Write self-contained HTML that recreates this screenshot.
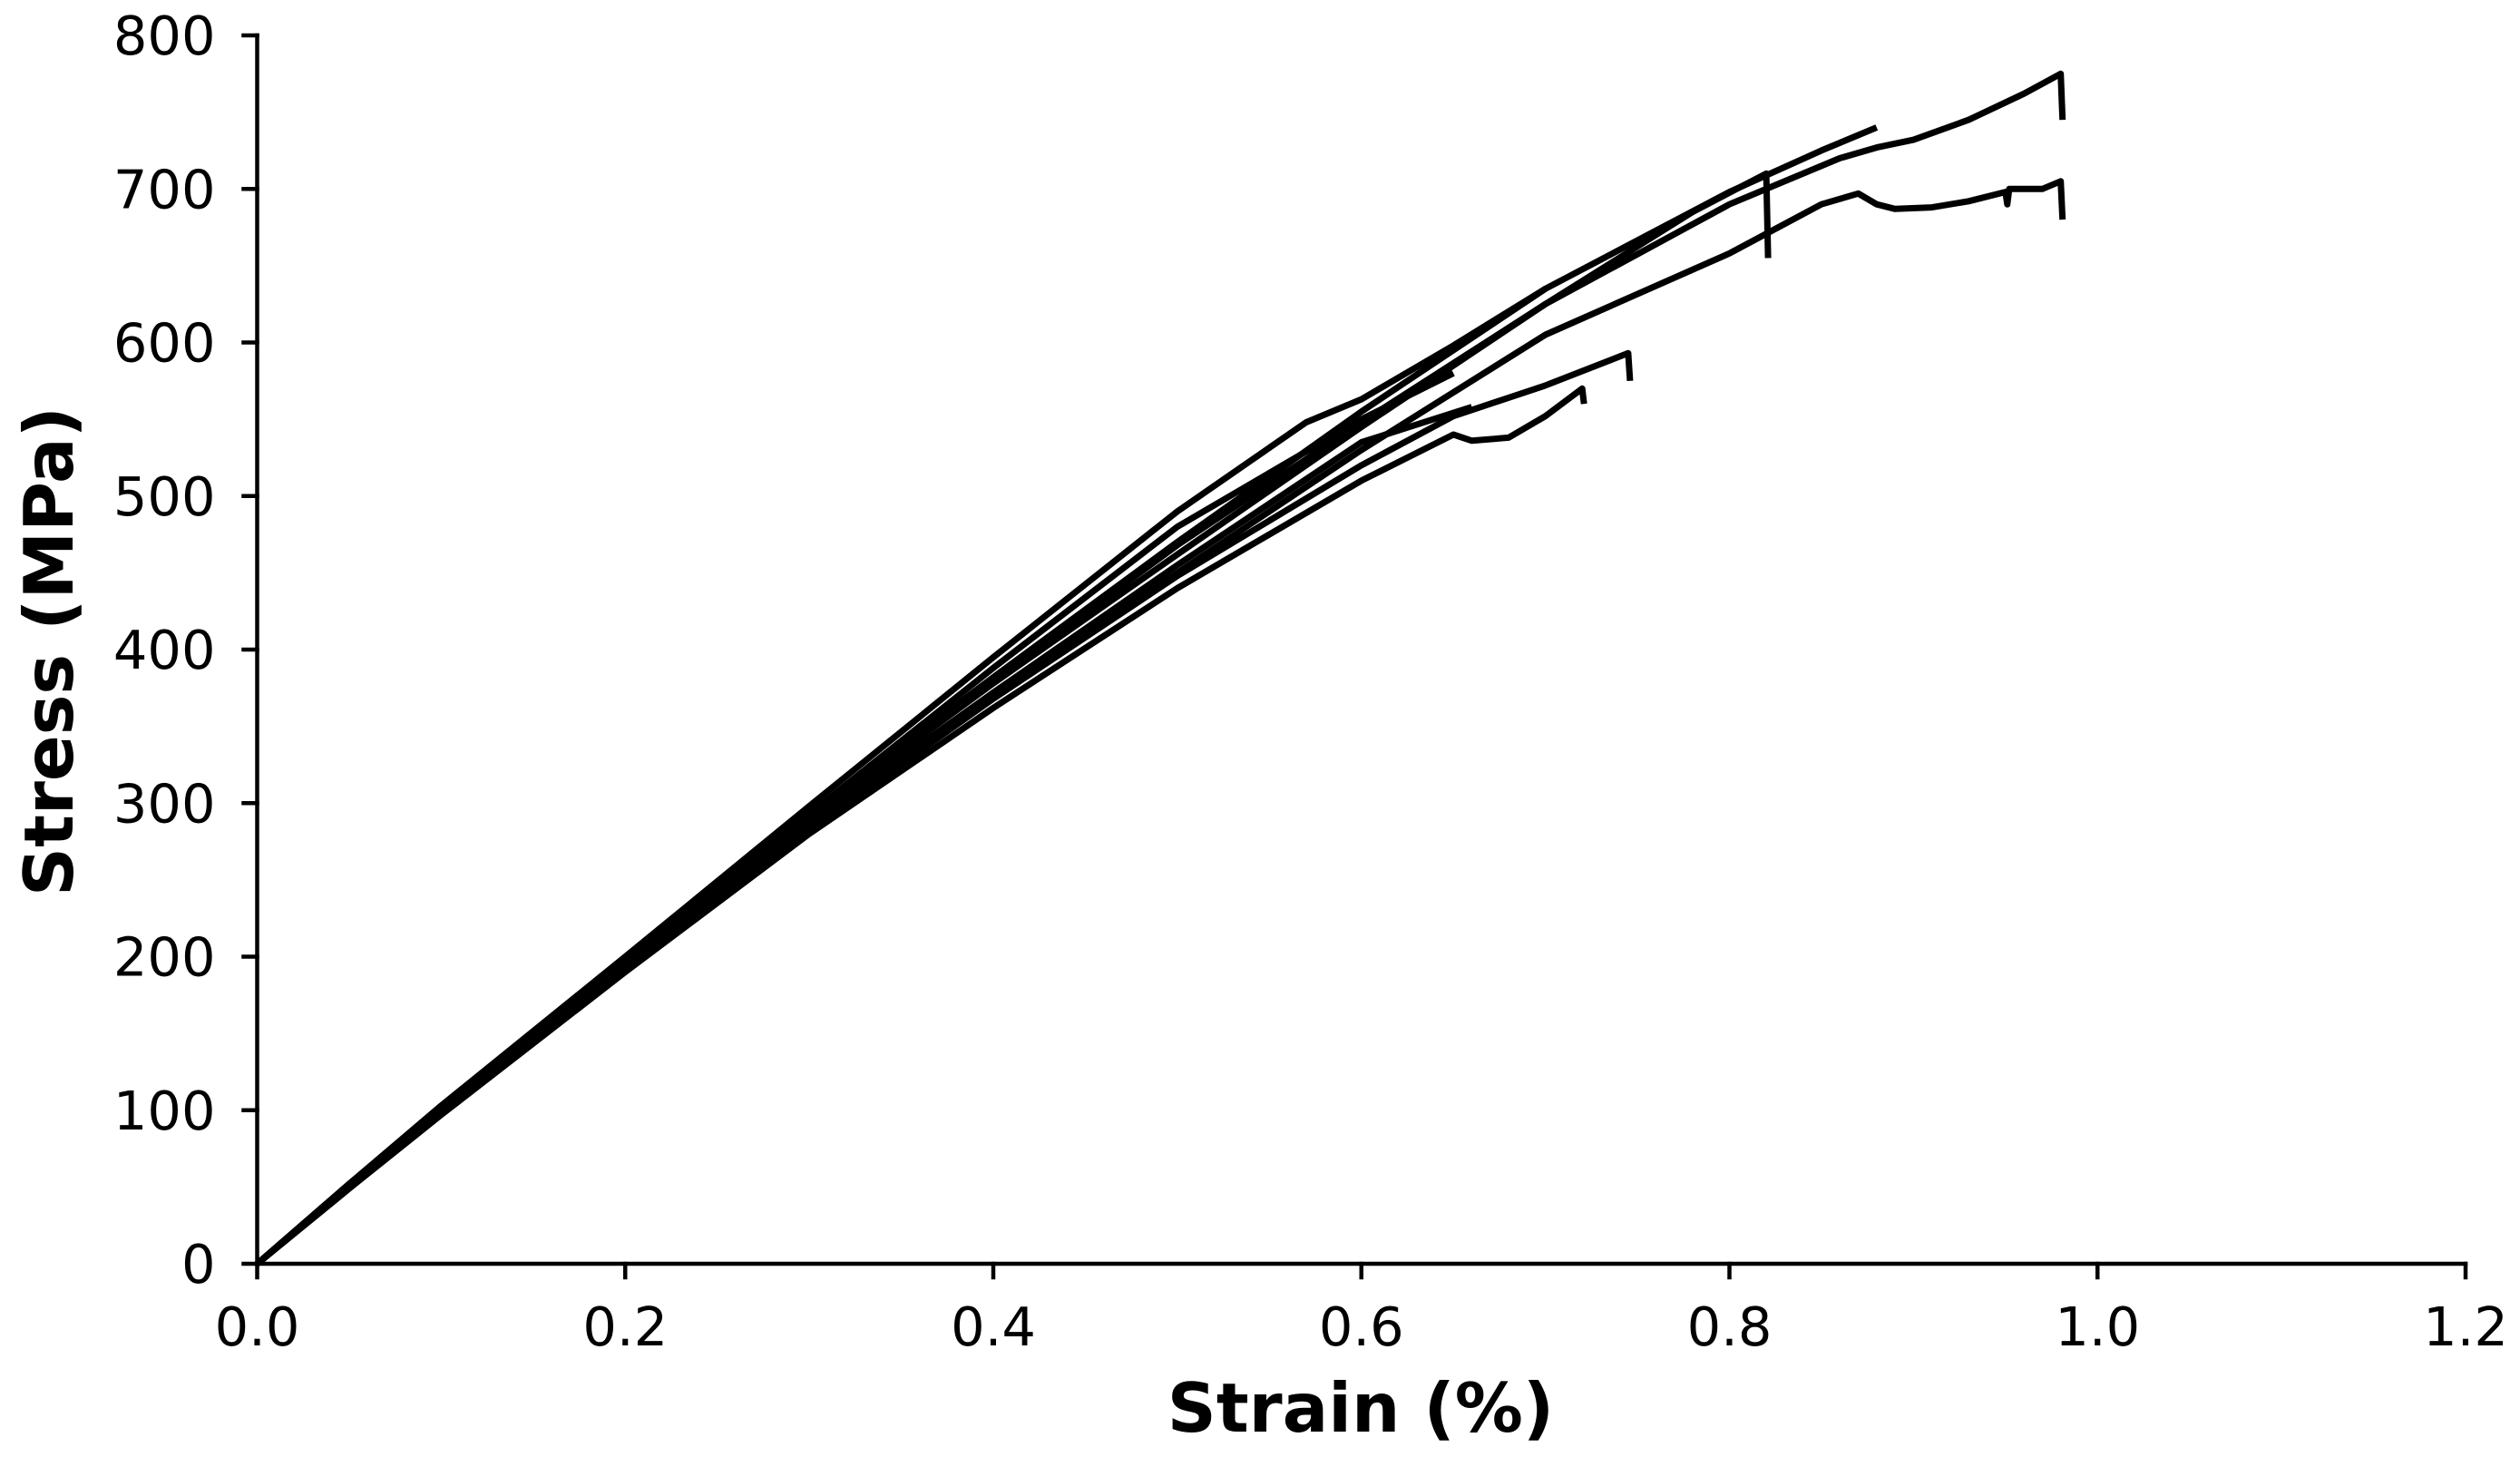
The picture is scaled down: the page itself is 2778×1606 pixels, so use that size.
<!DOCTYPE html>
<html><head><meta charset="utf-8">
<style>
html,body{margin:0;padding:0;background:#fff;}
svg{display:block;}
text{font-family:"DejaVu Sans","Liberation Sans",sans-serif;fill:#000;}
</style></head>
<body>
<svg id="chart" width="2778" height="1606" viewBox="0 0 2778 1606" xmlns="http://www.w3.org/2000/svg">
<g id="series"></g>
<g id="axes"></g>
</svg>
<script>
const xTicks = [0.0, 0.2, 0.4, 0.6, 0.8, 1.0, 1.2];
const xTickLabels = ["0.0","0.2","0.4","0.6","0.8","1.0","1.2"];
const yTicks = [0,100,200,300,400,500,600,700,800];
const yTickLabels = ["0","100","200","300","400","500","600","700","800"];

const s1x = [0,0.05,0.1,0.2,0.3,0.4,0.5,0.6,0.7,0.8,0.86,0.88,0.9,0.93,0.96,0.98,0.981];
const s1y = [0,50,100,195,290,380,468,548,625,690,720,727,732,745,762,775,745];
const s2x = [0,0.05,0.1,0.2,0.3,0.4,0.5,0.6,0.7,0.8,0.85,0.88];
const s2y = [0,52,102,198,292,382,470,555,635,698,725,740];
const s3x = [0,0.05,0.1,0.2,0.3,0.4,0.5,0.6,0.7,0.78,0.82,0.821];
const s3y = [0,50,100,196,290,378,462,545,625,685,710,655];
const s4x = [0,0.05,0.1,0.2,0.3,0.4,0.5,0.6,0.7,0.8,0.85,0.87,0.88,0.89,0.91,0.93,0.95,0.951,0.952,0.97,0.98,0.981];
const s4y = [0,50,99,193,285,370,450,530,605,658,690,697,690,687,688,692,698,690,700,700,705,680];
const s5x = [0,0.05,0.1,0.2,0.3,0.4,0.5,0.57,0.6,0.65,0.7];
const s5y = [0,52,103,200,298,395,490,548,563,598,635];
const s6x = [0,0.05,0.1,0.2,0.3,0.4,0.5,0.6,0.65,0.7,0.745,0.746];
const s6y = [0,49,98,192,283,368,448,520,552,572,593,575];
const s7x = [0,0.05,0.1,0.2,0.3,0.4,0.5,0.6,0.65,0.66,0.68,0.7,0.72,0.721];
const s7y = [0,49,97,190,280,362,440,510,540,536,538,552,570,560];
const s8x = [0,0.05,0.1,0.2,0.3,0.4,0.5,0.6,0.65];
const s8y = [0,51,101,197,293,388,480,550,580];
const s9x = [0,0.05,0.1,0.2,0.3,0.4,0.5,0.6,0.66];
const s9y = [0,50,100,194,287,372,455,535,558];

const X0=283.5, XW=2028.75, Y0=1393, YH=169.25;
function xs(v){return X0+v*XW;}
function ys(v){return Y0-v/100*YH;}
const NS="http://www.w3.org/2000/svg";
const series=[[s1x,s1y],[s2x,s2y],[s3x,s3y],[s4x,s4y],[s5x,s5y],[s6x,s6y],[s7x,s7y],[s8x,s8y],[s9x,s9y]];
const sg=document.getElementById('series');
series.forEach((s,i)=>{
  const p=document.createElementNS(NS,'path');
  let d='';
  for(let k=0;k<s[0].length;k++){d+=(k?'L':'M')+xs(s[0][k]).toFixed(1)+' '+ys(s[1][k]).toFixed(1);}
  p.setAttribute('d',d);
  p.setAttribute('fill','none');p.setAttribute('stroke','#000');
  p.setAttribute('stroke-width','7');p.setAttribute('stroke-linejoin','round');
  
  
  sg.appendChild(p);
});
const ag=document.getElementById('axes');
function line(x1,y1,x2,y2,name){
  const l=document.createElementNS(NS,'line');
  l.setAttribute('x1',x1);l.setAttribute('y1',y1);l.setAttribute('x2',x2);l.setAttribute('y2',y2);
  l.setAttribute('stroke','#000');l.setAttribute('stroke-width','4.5');l.setAttribute('stroke-linecap','square');
  
  
  ag.appendChild(l);
}
function text(x,y,str,anchor,size,weight,name,rot){
  const t=document.createElementNS(NS,'text');
  t.setAttribute('x',x);t.setAttribute('y',y);t.setAttribute('text-anchor',anchor);
  t.setAttribute('font-size',size);if(weight)t.setAttribute('font-weight',weight);
  if(rot)t.setAttribute('transform',rot);
  t.textContent=str;
  
  
  ag.appendChild(t);
}
line(X0,Y0,xs(1.2),Y0,'x-axis-line');
line(X0,Y0,X0,ys(800),'y-axis-line');
xTicks.forEach((v,i)=>{
  line(xs(v),Y0,xs(v),Y0+15,'x-tick');
  text(xs(v),Y0+90,xTickLabels[i],'middle',59,null,'x-tick-label');
});
yTicks.forEach((v,i)=>{
  line(X0-15,ys(v),X0,ys(v),'y-tick');
  text(X0-46,ys(v)+21,yTickLabels[i],'end',59,null,'y-tick-label');
});
text(1500,1578,'Strain (%)','middle',75,'bold','x-axis-title');
text(0,0,'Stress (MPa)','middle',75,'bold','y-axis-title','translate(80,718) rotate(-90)');
</script>
</body></html>
